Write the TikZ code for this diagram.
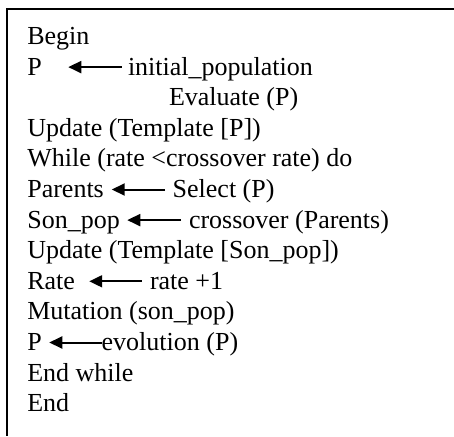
\documentclass[tikz,border=0pt]{standalone}
\usepackage{fontspec}
\setmainfont{Liberation Serif}
\usetikzlibrary{arrows.meta}
\begin{document}
\begin{tikzpicture}[x=1pt,y=-1pt,
  txt/.style={anchor=base west,inner sep=0pt,outer sep=0pt,font=\fontsize{26}{30.6}\selectfont},
  arr/.style={-{Triangle[length=13pt,width=12pt]},line width=2pt},
  frame/.style={line width=1.6pt}]
\useasboundingbox (0,0) rectangle (454,436);
\coordinate (tl) at (6.8,9.3);
\coordinate (tr) at (454,9.3);
\coordinate (bl) at (6.8,436);
\draw[frame] (tr) -- (tl) -- (bl);
\def\dy{30.6}
\node[txt] (l1) at (27.3,44.5) {Begin};
\node[txt] (l2a) at (27.3,44.5+\dy) {P};
\node[txt] (l2b) at (128,44.5+\dy) {initial\_population};
\node[txt] (l3) at (169,44.5+2*\dy) {Evaluate (P)};
\node[txt] (l4) at (27.3,44.5+3*\dy) {Update (Template [P])};
\node[txt] (l5) at (27.3,44.5+4*\dy) {While (rate <crossover rate) do};
\node[txt] (l6a) at (27.3,44.5+5*\dy) {Parents};
\node[txt] (l6b) at (172.7,44.5+5*\dy) {Select (P)};
\node[txt] (l7a) at (27.3,44.5+6*\dy) {Son\_pop};
\node[txt] (l7b) at (189,44.5+6*\dy) {crossover (Parents)};
\node[txt] (l8) at (27.3,44.5+7*\dy) {Update (Template [Son\_pop])};
\node[txt] (l9a) at (27.3,44.5+8*\dy) {Rate};
\node[txt] (l9b) at (150,44.5+8*\dy) {rate +1};
\node[txt] (l10) at (27.3,44.5+9*\dy) {Mutation (son\_pop)};
\node[txt] (l11a) at (27.3,44.5+10*\dy) {P};
\node[txt] (l11b) at (101.7,44.5+10*\dy) {evolution (P)};
\node[txt] (l12) at (27.3,44.5+11*\dy) {End while};
\node[txt] (l13) at (27.3,44.5+12*\dy) {End};
\draw[arr] ([xshift=-6.3pt,yshift=8pt]l2b.base west) -- ([xshift=26.5pt,yshift=8pt]l2a.base east);
\draw[arr] ([xshift=-7.7pt,yshift=8pt]l6b.base west) -- ([xshift=7.9pt,yshift=8pt]l6a.base east);
\draw[arr] ([xshift=-8pt,yshift=8pt]l7b.base west) -- ([xshift=7.5pt,yshift=8pt]l7a.base east);
\draw[arr] ([xshift=-8.3pt,yshift=8pt]l9b.base west) -- ([xshift=14.3pt,yshift=8pt]l9a.base east);
\draw[arr] ([xshift=0pt,yshift=8pt]l11b.base west) -- ([xshift=7.5pt,yshift=8pt]l11a.base east);
\end{tikzpicture}
\end{document}
